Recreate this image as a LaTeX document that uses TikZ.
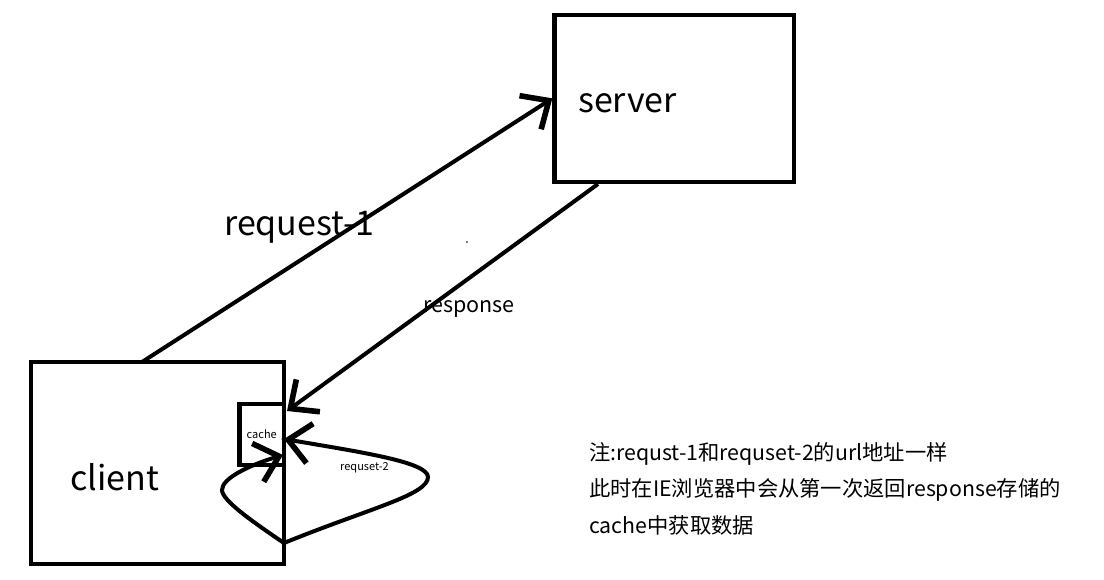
\documentclass[tikz,border=0pt]{standalone}
\usepackage{fontspec}
\setmainfont{Noto Sans CJK SC}
\usetikzlibrary{positioning,arrows.meta}

\tikzset{
  box/.style={draw, line width=4.3pt, inner sep=0pt},
  wire/.style={line width=4pt, -{Straight Barb[length=22pt,width=40pt,line width=0pt 1.4]}},
  bigtext/.style={anchor=base west, inner sep=0pt, font=\fontsize{34}{40}\selectfont},
}

\begin{document}
\begin{tikzpicture}[x=1pt,y=-1pt]
    \useasboundingbox (0,0) rectangle (1104,579);
    % Boxes
    \node[box, minimum width=239.5pt, minimum height=167.3pt] (server) at (674.25,98.35) {};
    \node[box, minimum width=253pt, minimum height=202pt] (client) at (157.5,463) {};
    \node[box, minimum width=44.5pt, minimum height=61pt, font=\fontsize{11}{13}\selectfont] (cache) at (261.75,434.2) {cache};
    % Labels
    \node[bigtext] (servertext) at (578,112) {server};
    \node[bigtext] (clienttext) at (70,490) {client};
    \node[bigtext] (req1) at (224,235) {request-1};
    \node[anchor=base west, inner sep=0pt, font=\fontsize{21.5}{24}\selectfont] (resp) at (423,312) {response};
    \node[anchor=base west, inner sep=0pt, font=\fontsize{11}{13}\selectfont] (req2) at (340,470) {requset-2};
    \node[anchor=base west, inner sep=0pt, align=left, font=\fontsize{21.3}{36.5}\selectfont] (note) at (589,533)
      {注:requst-1和requset-2的url地址一样\\此时在IE浏览器中会从第一次返回response存储的\\cache中获取数据};
    % Points
    \fill (467,242) circle (0.8pt);
    \coordinate (reqstart) at (142,362);
    \coordinate (respstart) at (598,184);
    \coordinate (resptip) at (287,411);
    \coordinate (loopbase) at (284,543);
    \coordinate (cachetip) at (284,439);
    \coordinate (loopin) at (283,455);
    \fill (cachetip) circle (2.5pt);
    % Arrows
    \draw[wire] (reqstart) -- (server.west);
    \draw[wire] (respstart) -- (resptip);
    \draw[wire] (loopbase) .. controls (370,508) and (428,495) .. (428,477)
      .. controls (428,462) and (360,452) .. (cachetip);
    \draw[wire] (loopbase) .. controls (250,520) and (222,500) .. (222,490)
      .. controls (222,478) and (250,465) .. (loopin);
\end{tikzpicture}
\end{document}
